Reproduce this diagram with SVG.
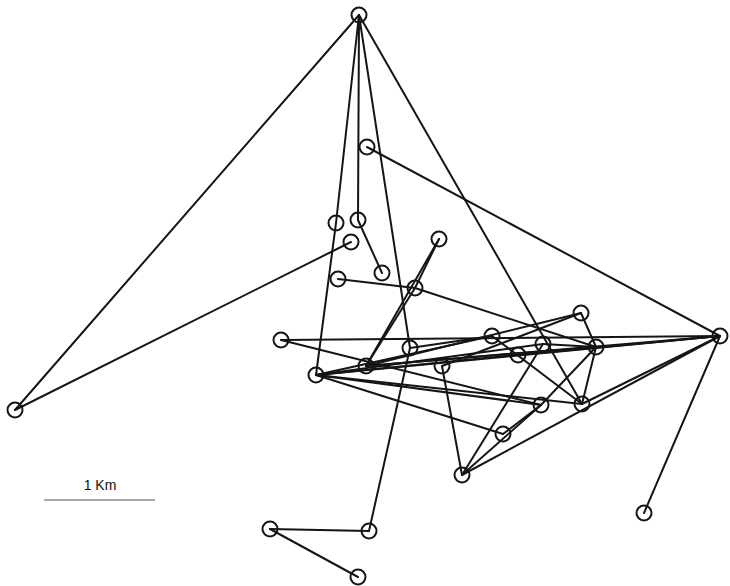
<svg xmlns="http://www.w3.org/2000/svg" width="730" height="586" viewBox="0 0 730 586">
  <style>
    .edge { stroke: #151515; stroke-width: 2; fill: none; stroke-linecap: round; }
    .node circle { stroke: #151515; stroke-width: 2; fill: none; }
    .scale { stroke: #555; stroke-width: 1.2; }
    .label { font-family: "Liberation Sans", Arial, sans-serif; font-size: 14px; fill: #111; }
  </style>
  <rect width="730" height="586" fill="#fff"/>
  <g id="connectors">
    <line class="edge" x1="359" y1="15" x2="15" y2="410"/>
    <line class="edge" x1="359" y1="15" x2="336" y2="223"/>
    <line class="edge" x1="336" y1="223" x2="316" y2="375"/>
    <line class="edge" x1="359" y1="15" x2="358" y2="220"/>
    <line class="edge" x1="358" y1="220" x2="382" y2="273"/>
    <line class="edge" x1="359" y1="15" x2="410" y2="348"/>
    <line class="edge" x1="359" y1="15" x2="582" y2="404"/>
    <line class="edge" x1="367" y1="147" x2="720" y2="336"/>
    <line class="edge" x1="351" y1="242" x2="15" y2="410"/>
    <line class="edge" x1="439" y1="239" x2="415" y2="288"/>
    <line class="edge" x1="439" y1="239" x2="366" y2="366"/>
    <line class="edge" x1="415" y1="288" x2="366" y2="366"/>
    <line class="edge" x1="338" y1="279" x2="415" y2="288"/>
    <line class="edge" x1="415" y1="288" x2="596" y2="347"/>
    <line class="edge" x1="410" y1="348" x2="369" y2="531"/>
    <line class="edge" x1="369" y1="531" x2="270" y2="529"/>
    <line class="edge" x1="270" y1="529" x2="358" y2="577"/>
    <line class="edge" x1="720" y1="336" x2="644" y2="513"/>
    <line class="edge" x1="281" y1="340" x2="720" y2="336"/>
    <line class="edge" x1="281" y1="340" x2="541" y2="405"/>
    <line class="edge" x1="316" y1="375" x2="720" y2="336"/>
    <line class="edge" x1="316" y1="375" x2="596" y2="347"/>
    <line class="edge" x1="316" y1="375" x2="543" y2="344"/>
    <line class="edge" x1="316" y1="375" x2="492" y2="336"/>
    <line class="edge" x1="316" y1="375" x2="503" y2="434"/>
    <line class="edge" x1="316" y1="375" x2="582" y2="404"/>
    <line class="edge" x1="316" y1="375" x2="541" y2="405"/>
    <line class="edge" x1="366" y1="366" x2="581" y2="313"/>
    <line class="edge" x1="366" y1="366" x2="720" y2="336"/>
    <line class="edge" x1="366" y1="366" x2="596" y2="347"/>
    <line class="edge" x1="462" y1="475" x2="442" y2="366"/>
    <line class="edge" x1="462" y1="475" x2="543" y2="344"/>
    <line class="edge" x1="462" y1="475" x2="541" y2="405"/>
    <line class="edge" x1="503" y1="434" x2="541" y2="405"/>
    <line class="edge" x1="462" y1="475" x2="720" y2="336"/>
    <line class="edge" x1="582" y1="404" x2="720" y2="336"/>
    <line class="edge" x1="581" y1="313" x2="596" y2="347"/>
    <line class="edge" x1="596" y1="347" x2="582" y2="404"/>
    <line class="edge" x1="492" y1="336" x2="582" y2="404"/>
    <line class="edge" x1="596" y1="347" x2="541" y2="405"/>
    <line class="edge" x1="442" y1="366" x2="581" y2="313"/>
    <line class="edge" x1="543" y1="344" x2="596" y2="347"/>
    <line class="edge" x1="518" y1="355" x2="720" y2="336"/>
    <line class="edge" x1="410" y1="348" x2="492" y2="336"/>
  </g>
  <g id="nA" class="node"><circle cx="359" cy="15" r="7.5"/></g>
  <g id="nB" class="node"><circle cx="367" cy="147" r="7.5"/></g>
  <g id="nC" class="node"><circle cx="336" cy="223" r="7.5"/></g>
  <g id="nD" class="node"><circle cx="358" cy="220" r="7.5"/></g>
  <g id="nE" class="node"><circle cx="351" cy="242" r="7.5"/></g>
  <g id="nF" class="node"><circle cx="439" cy="239" r="7.5"/></g>
  <g id="nG" class="node"><circle cx="382" cy="273" r="7.5"/></g>
  <g id="nH" class="node"><circle cx="338" cy="279" r="7.5"/></g>
  <g id="nI" class="node"><circle cx="415" cy="288" r="7.5"/></g>
  <g id="nJ" class="node"><circle cx="281" cy="340" r="7.5"/></g>
  <g id="nK" class="node"><circle cx="316" cy="375" r="7.5"/></g>
  <g id="nL" class="node"><circle cx="366" cy="366" r="7.5"/></g>
  <g id="nM" class="node"><circle cx="410" cy="348" r="7.5"/></g>
  <g id="nN" class="node"><circle cx="492" cy="336" r="7.5"/></g>
  <g id="nO" class="node"><circle cx="442" cy="366" r="7.5"/></g>
  <g id="nP" class="node"><circle cx="518" cy="355" r="7.5"/></g>
  <g id="nQ" class="node"><circle cx="543" cy="344" r="7.5"/></g>
  <g id="nR" class="node"><circle cx="581" cy="313" r="7.5"/></g>
  <g id="nS" class="node"><circle cx="596" cy="347" r="7.5"/></g>
  <g id="nT" class="node"><circle cx="720" cy="336" r="7.5"/></g>
  <g id="nU" class="node"><circle cx="541" cy="405" r="7.5"/></g>
  <g id="nV" class="node"><circle cx="582" cy="404" r="7.5"/></g>
  <g id="nW" class="node"><circle cx="503" cy="434" r="7.5"/></g>
  <g id="nX" class="node"><circle cx="462" cy="475" r="7.5"/></g>
  <g id="nY" class="node"><circle cx="15" cy="410" r="7.5"/></g>
  <g id="nZ" class="node"><circle cx="644" cy="513" r="7.5"/></g>
  <g id="na" class="node"><circle cx="369" cy="531" r="7.5"/></g>
  <g id="nb" class="node"><circle cx="270" cy="529" r="7.5"/></g>
  <g id="nc" class="node"><circle cx="358" cy="577" r="7.5"/></g>
  <g id="scalebar">
    <line class="scale" x1="44" y1="500" x2="155" y2="500"/>
    <text class="label" x="100" y="490" text-anchor="middle">1 Km</text>
  </g>
</svg>
